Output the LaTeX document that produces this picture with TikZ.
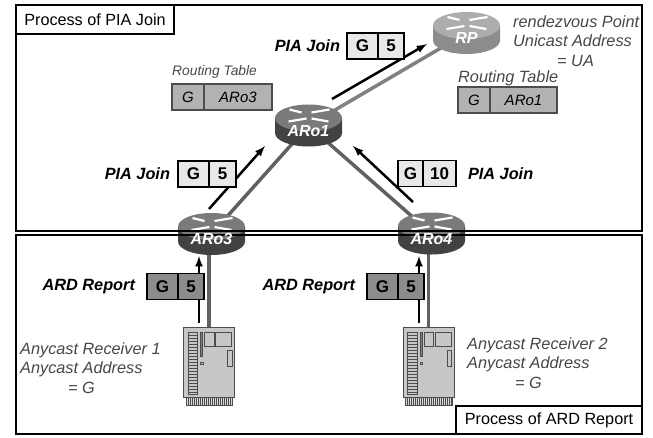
\documentclass[tikz,border=0pt]{standalone}
\usepackage{fontspec}
\setmainfont{Liberation Sans}
\usepackage{xcolor}
\usetikzlibrary{arrows,backgrounds,calc,positioning}
\pgfdeclarelayer{routerlayer}
\pgfsetlayers{background,routerlayer,main}
\definecolor{linkgray}{gray}{0.38}
\definecolor{textgray}{gray}{0.28}
\tikzset{%
	framebox/.style   = {draw, rectangle, line width=2pt, minimum width=626pt},
	titlebox/.style   = {draw, rectangle, fill=white, line width=2pt, inner sep=0pt, font=\fontsize{16.2}{18}\selectfont},
	router/.style     = {rectangle, minimum width=67pt, minimum height=42pt, inner sep=0pt, text=white, text height=21pt, text depth=0pt, font=\fontsize{16}{18}\selectfont\bfseries\itshape},
	field/.style      = {draw, rectangle, line width=1.8pt, inner sep=0pt, outer sep=0pt, minimum height=26pt, font=\fontsize{17}{19}\selectfont\bfseries},
	joinfield/.style  = {field, fill=black!9},
	reportfield/.style= {field, fill=black!45},
	tablefield/.style = {field, fill=black!30, draw=black!70, font=\fontsize{15}{17}\selectfont\itshape},
	msglabel/.style   = {font=\fontsize{16.3}{18}\selectfont\bfseries\itshape},
	infolabel/.style  = {text=textgray, align=left, inner sep=0pt, font=\fontsize{16.3}{19.8}\selectfont\itshape},
	receiver/.style   = {draw=black!70, rectangle, fill=black!22, line width=0.7pt, minimum width=51pt, minimum height=70pt},
	link/.style       = {draw=linkgray, line width=3.5pt},
	arrow/.style      = {line width=2.5pt,-latex},
}
\begin{document}
\begin{tikzpicture}[x=1pt, y=-1pt]
	\useasboundingbox (0,0) rectangle (653,437);
	% frames
	\node[framebox, minimum height=225.5pt] (PIAframe) at (329,117.75) {};
	\node[framebox, minimum height=199pt] (ARDframe) at (329,334.5) {};
	\node[titlebox, minimum width=158pt, minimum height=29pt] (PIAtitle) at (95,19.5) {Process of PIA Join};
	\node[titlebox, minimum width=186pt, minimum height=28pt] (ARDtitle) at (549,420) {Process of ARD Report};
	% routers
	\node[router] (ARo1) at (308.5,125.5) {ARo1};
	\node[router] (ARo3) at (211.5,234) {ARo3};
	\node[router] (ARo4) at (431.5,233.5) {ARo4};
	\node[router] (RP) at (466.5,33) {RP};
	\begin{pgfonlayer}{routerlayer}
		\foreach \r/\cbody/\ctop in {ARo1/black!74/black!52,ARo3/black!74/black!52,ARo4/black!74/black!52,RP/black!45/black!32} {
			\begin{scope}[shift={(\r.center)}]
				\fill[\cbody] (-33.5,-7.5) -- (-33.5,7.5) arc[start angle=180, delta angle=-180, x radius=33.5, y radius=13.5] -- (33.5,-7.5) -- cycle;
				\fill[\ctop] (0,-7.5) ellipse[x radius=33.5, y radius=13.5];
				\draw[white, line width=2.2pt] (-19,-16) -- (-7,-13) (3,-13) -- (21,-16) (-20,-4) -- (-2,-7) (3,-7) -- (20,-4);
			\end{scope}
		}
	\end{pgfonlayer}
	% receivers
	\node[receiver] (Rx1) at (209,362) {};
	\node[receiver] (Rx2) at (428.5,362) {};
	\foreach \r in {Rx1,Rx2} {
		\begin{scope}[shift={(\r.center)}, draw=black!70, line width=0.6pt]
			\draw (-21,-30) rectangle (-11.5,32);
			\foreach \s in {-27,-24,...,30} {
				\draw (-21,\s) -- (-11.5,\s);
			}
			\draw[fill=black!50] (-8.5,-30) rectangle (-6.5,-6);
			\draw (-8.5,0) rectangle (-6,2.5);
			\draw (-4.5,-30) rectangle (5,-16);
			\draw (6.5,-30) rectangle (22.5,-16);
			\draw (18.5,-12) rectangle (23,4.5);
			\draw[fill=black!15] (-23,35) rectangle (23.5,43);
			\foreach \s in {-21,-19,...,23} {
				\draw (\s,35) -- (\s,43);
			}
		\end{scope}
	}
	% arrow ends
	\coordinate (a1) at (209,209);
	\coordinate (b1) at (265,146);
	\coordinate (a2) at (413,202);
	\coordinate (b2) at (353,146);
	\coordinate (a3) at (332,99);
	\coordinate (b3) at (427,44);
	\coordinate (a4) at (199,323);
	\coordinate (b4) at (199,256);
	\coordinate (a5) at (419,323);
	\coordinate (b5) at (419,256);
	\begin{scope}[on background layer]
		\draw[link] (ARo3.center) -- (ARo1.center);
		\draw[link] (ARo4.center) -- (ARo1.center);
		\draw[link, draw=black!50] (ARo1.center) -- (RP.center);
		\draw[link] (Rx1.north) -- (Rx1.north |- ARo3.center);
		\draw[link] (Rx2.north) -- (Rx2.north |- ARo4.center);
		\draw[arrow] (a1) -- (b1);
		\draw[arrow] (a2) -- (b2);
		\draw[arrow] (a3) -- (b3);
		\draw[arrow] (a4) -- (b4);
		\draw[arrow] (a5) -- (b5);
	\end{scope}
	% packets
	\node[joinfield, minimum width=31pt] (G1) at (193.5,174) {G};
	\node[joinfield, minimum width=27pt, right=0pt of G1] (V1) {5};
	\node[joinfield, minimum width=25pt] (G2) at (410.5,173.5) {G};
	\node[joinfield, minimum width=33pt, right=0pt of G2] (V2) {10};
	\node[joinfield, minimum width=31pt] (G3) at (362.5,46) {G};
	\node[joinfield, minimum width=26pt, right=0pt of G3] (V3) {5};
	\node[reportfield, minimum width=31pt] (G4) at (162.5,286.5) {G};
	\node[reportfield, minimum width=26pt, right=0pt of G4] (V4) {5};
	\node[reportfield, minimum width=31pt] (G5) at (382.5,286.5) {G};
	\node[reportfield, minimum width=26pt, right=0pt of G5] (V5) {5};
	% tables
	\node[tablefield, minimum width=32pt] (T1) at (188,97) {G};
	\node[tablefield, minimum width=68pt, right=0pt of T1] (N1) {ARo3};
	\node[tablefield, minimum width=32pt] (T2) at (474,100) {G};
	\node[tablefield, minimum width=67pt, right=0pt of T2] (N2) {ARo1};
	% labels
	\node[msglabel, left=3.5pt of G3] (L3) {PIA Join};
	\node[msglabel, left=4.5pt of G1] (L1) {PIA Join};
	\node[msglabel, right=8.5pt of V2] (L2) {PIA Join};
	\node[msglabel, left=8.5pt of G4] (L4) {ARD Report};
	\node[msglabel, left=8.5pt of G5] (L5) {ARD Report};
	\node[infolabel, anchor=west, font=\fontsize{13.8}{16}\selectfont\itshape] (R1) at (172,72) {Routing Table};
	\node[infolabel, anchor=west] (R2) at (458,78) {Routing Table};
	\node[infolabel, anchor=north west] (I1) at (513,15) {rendezvous Point\\Unicast Address\\\hspace*{44pt}= UA};
	\node[infolabel, anchor=north west] (I2) at (20,342) {Anycast Receiver 1\\Anycast Address\\\hspace*{48pt}= G};
	\node[infolabel, anchor=north west] (I3) at (467,337) {Anycast Receiver 2\\Anycast Address\\\hspace*{48pt}= G};
\end{tikzpicture}
\end{document}
